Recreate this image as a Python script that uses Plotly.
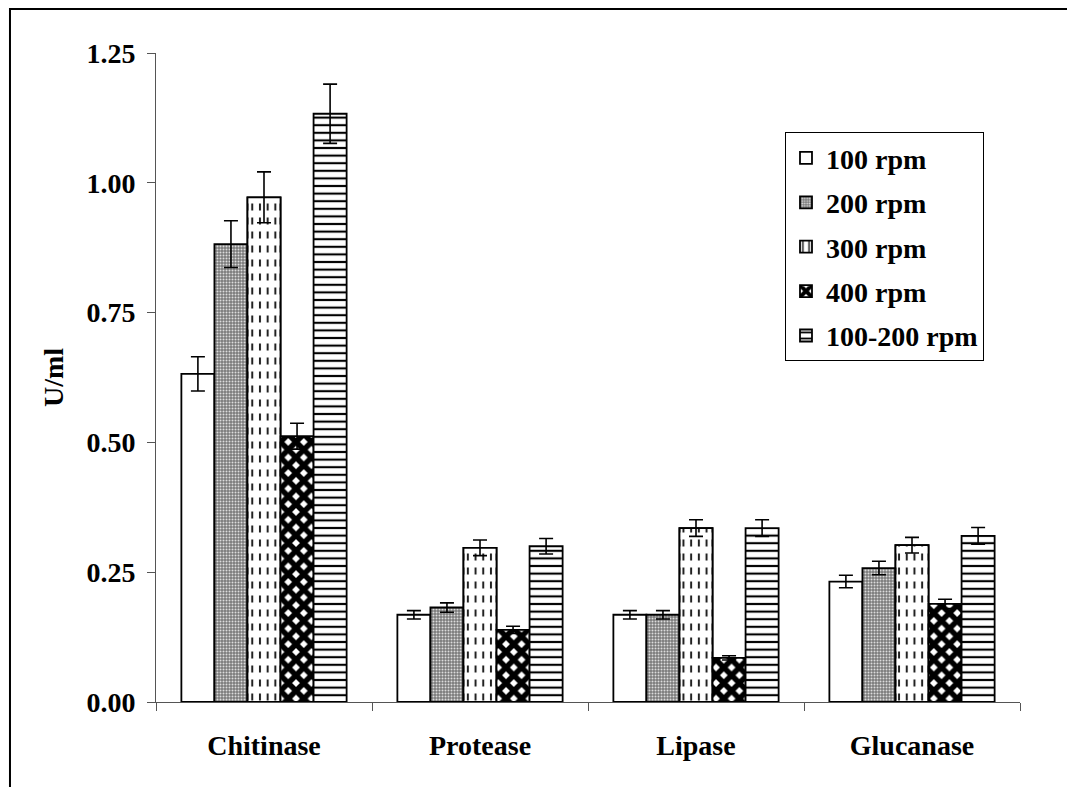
import plotly.graph_objects as go

# Enzyme activity (U/ml) at different agitation speeds
enzymes = ["Chitinase", "Protease", "Lipase", "Glucanase"]
speeds = ["100 rpm", "200 rpm", "300 rpm", "400 rpm", "100-200 rpm"]

rpm100 = [0.632, 0.168, 0.168, 0.232]
rpm100_err = [0.033, 0.008, 0.008, 0.012]
rpm200 = [0.882, 0.182, 0.168, 0.258]
rpm200_err = [0.045, 0.009, 0.008, 0.013]
rpm300 = [0.972, 0.297, 0.335, 0.302]
rpm300_err = [0.049, 0.015, 0.016, 0.015]
rpm400 = [0.512, 0.139, 0.085, 0.189]
rpm400_err = [0.025, 0.007, 0.004, 0.009]
rpm100_200 = [1.133, 0.300, 0.335, 0.320]
rpm100_200_err = [0.057, 0.015, 0.016, 0.016]

y_ticks = [0.0, 0.25, 0.5, 0.75, 1.0, 1.25]

series = [rpm100, rpm200, rpm300, rpm400, rpm100_200]
errors = [rpm100_err, rpm200_err, rpm300_err, rpm400_err, rpm100_200_err]

FONT = "Liberation Serif"
FSIZE = 28
BAR_W = 0.153
FIRST_OFFSET = -0.3825

fills = [
    dict(color="white", pattern=dict(shape="")),
    dict(color="#7a7a7a", pattern=dict(shape=".", fgcolor="#dcdcdc", bgcolor="#7a7a7a",
                                       size=3, solidity=0.35, fillmode="replace")),
    dict(color="white", pattern=dict(shape="|", fgcolor="#222222", bgcolor="white",
                                     size=7.7, solidity=0.26, fillmode="replace")),
    dict(color="white", pattern=dict(shape="x", fgcolor="black", bgcolor="white",
                                     size=11, solidity=0.75, fillmode="replace")),
    dict(color="white", pattern=dict(shape="-", fgcolor="black", bgcolor="white",
                                     size=7.6, solidity=0.28, fillmode="replace")),
]

err_style = dict(type="data", visible=True, color="black", thickness=1.6, width=7)

fig = go.Figure()
for i, (name, vals, errs, fill) in enumerate(zip(speeds, series, errors, fills)):
    dashed = name == "300 rpm"
    fig.add_trace(go.Bar(
        x=enzymes, y=vals, name=name, legendgroup=name,
        width=BAR_W, offset=FIRST_OFFSET + i * BAR_W,
        marker=dict(color=fill["color"], pattern=fill["pattern"],
                    line=dict(color="black", width=1.8)),
        error_y=None if dashed else dict(array=errs, **err_style),
    ))
    if dashed:
        # white bands break the vertical lines into dashes
        fig.add_trace(go.Bar(
            x=enzymes, y=vals, name=name, legendgroup=name, showlegend=False,
            width=BAR_W, offset=FIRST_OFFSET + i * BAR_W,
            marker=dict(color="rgba(0,0,0,0)",
                        pattern=dict(shape="-", fgcolor="white", bgcolor="rgba(0,0,0,0)",
                                     size=14, solidity=0.5, fillmode="replace"),
                        line=dict(color="black", width=1.8)),
            error_y=dict(array=errs, **err_style),
        ))

bold = dict(family=FONT, size=FSIZE, color="black", weight="bold")

fig.update_layout(
    width=1067, height=787,
    barmode="overlay",
    paper_bgcolor="white", plot_bgcolor="white",
    margin=dict(l=156, r=47, t=53, b=85),
    font=bold,
    showlegend=True,
    legend=dict(
        x=0.728, y=0.878, xanchor="left", yanchor="top",
        bgcolor="white", bordercolor="black", borderwidth=1,
        font=bold, tracegroupgap=5, traceorder="grouped",
    ),
    xaxis=dict(
        type="category", categoryorder="array", categoryarray=enzymes,
        range=[-0.5, 3.5], showline=True, linecolor="#555555", linewidth=1,
        ticks="outside", tickson="boundaries", ticklen=8, tickcolor="#555555",
        showgrid=False, zeroline=False, ticklabelstandoff=18,
        tickfont=bold,
    ),
    yaxis=dict(
        range=[0, 1.25], tickvals=y_ticks, tickformat=".2f",
        showline=True, linecolor="#555555", linewidth=1,
        ticks="outside", ticklen=8, tickcolor="#555555",
        showgrid=False, zeroline=False, ticklabelstandoff=6,
        tickfont=bold,
        title=dict(text="U/ml", standoff=14, font=bold),
    ),
    shapes=[dict(type="rect", xref="paper", yref="paper",
                 x0=-0.169, x1=1.07, y0=-0.16, y1=1.0678,
                 line=dict(color="black", width=2), fillcolor="rgba(0,0,0,0)",
                 layer="above")],
)

fig.write_html("out.html")
